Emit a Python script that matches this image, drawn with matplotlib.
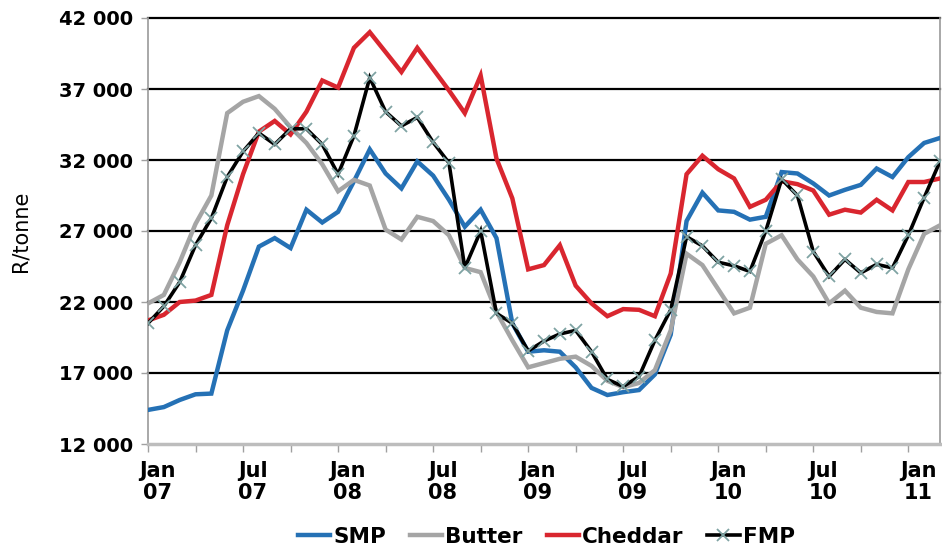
import matplotlib
matplotlib.use("Agg")
import matplotlib.pyplot as plt
import matplotlib.transforms as mtransforms
import numpy as np

# monthly prices, Jan 2007 - Mar 2011 (R/tonne)
months = np.arange(51)

smp = [14400, 14600, 15100, 15500, 15550, 20000, 22800, 25900, 26500, 25800,
       28500, 27600, 28350, 30500, 32750, 31050, 30000, 31900, 30900, 29200,
       27300, 28500, 26500, 20500, 18500, 18600, 18500, 17400, 15950, 15450,
       15650, 15800, 16900, 19700, 27700, 29700, 28450, 28350, 27800, 28000,
       31150, 31050, 30350, 29500, 29900, 30250, 31400, 30800, 32200, 33200, 33550]

butter = [21900, 22500, 24800, 27500, 29500, 35300, 36100, 36500, 35600, 34300,
          33200, 31700, 29800, 30600, 30200, 27100, 26400, 28000, 27700, 26700,
          24400, 24100, 21300, 19300, 17400, 17700, 18000, 18150, 17500, 16450,
          16000, 16300, 17200, 20000, 25400, 24600, 22900, 21200, 21600, 26100,
          26700, 25000, 23800, 21900, 22800, 21600, 21300, 21200, 24300, 26800, 27400]

cheddar = [20700, 21100, 22000, 22100, 22500, 27400, 31000, 34000, 34750, 33800,
           35400, 37600, 37100, 39900, 41000, 39600, 38200, 39900, 38400, 36900,
           35300, 37950, 32100, 29300, 24300, 24600, 26000, 23150, 21900, 21000,
           21500, 21450, 21000, 24000, 31000, 32300, 31350, 30700, 28700, 29200,
           30500, 30300, 29850, 28150, 28500, 28300, 29200, 28450, 30450, 30450, 30700]

fmp = [20500, 21700, 23400, 26000, 27900, 30800, 32600, 33900, 33100, 34200,
       34200, 33100, 31000, 33700, 37800, 35400, 34400, 35000, 33250, 31800,
       24400, 27000, 21200, 20500, 18550, 19250, 19750, 20000, 18500, 16550,
       16050, 16750, 19300, 21450, 26600, 25950, 24800, 24550, 24150, 27000,
       30650, 29500, 25550, 23800, 25000, 24050, 24650, 24400, 26700, 29350, 31900]

tick_labels = ["Jan\n07", "Jul\n07", "Jan\n08", "Jul\n08", "Jan\n09",
               "Jul\n09", "Jan\n10", "Jul\n10", "Jan\n11"]
y_ticks = [12000, 17000, 22000, 27000, 32000, 37000, 42000]

plt.rcParams['font.family'] = ['DejaVu Sans']

fig = plt.figure(figsize=(9.42, 5.52), dpi=100)
ax = fig.add_axes([148 / 942, 1 - 444 / 552, 792 / 942, 426 / 552])

# horizontal grid
for v in y_ticks[1:]:
    ax.axhline(v, color='black', lw=1.6, zorder=1, clip_on=False)

ax.plot(months, smp, color='#2571b5', lw=3.2, label='SMP', zorder=3,
        solid_joinstyle='miter')
ax.plot(months, butter, color='#a5a5a5', lw=3.2, label='Butter', zorder=3,
        solid_joinstyle='miter')
ax.plot(months, cheddar, color='#d9262f', lw=3.2, label='Cheddar', zorder=3,
        solid_joinstyle='miter')
ax.plot(months, fmp, color='black', lw=2.6, label='FMP', zorder=4,
        marker='x', ms=8, mew=1.3, mec='#7fa3a3', solid_joinstyle='miter')

ax.set_xlim(0, 50)
ax.set_ylim(12000, 42000)

ax.set_yticks(y_ticks)
ax.set_yticklabels([f"{v:,}".replace(",", " ") for v in y_ticks],
                   fontsize=14, fontweight='bold')
ax.set_xticks(np.arange(0, 49, 6))
ax.set_xticks(np.arange(0, 51, 3), minor=True)
ax.set_xticklabels(tick_labels, fontsize=15, fontweight='bold', linespacing=1.15)
ax.tick_params(axis='x', which='both', length=6, width=1, color='#a0a0a0',
               direction='out', pad=6)
ax.tick_params(axis='y', length=5, width=1, color='#a0a0a0', pad=6)

offset = mtransforms.ScaledTranslation(7 / 72, 0, fig.dpi_scale_trans)
for lab in ax.get_xticklabels():
    lab.set_transform(lab.get_transform() + offset)

ax.set_ylabel('R/tonne', fontsize=15, labelpad=20)

for side in ['left', 'right']:
    ax.spines[side].set_color('#999999')
    ax.spines[side].set_linewidth(1.2)
ax.spines['bottom'].set_color('#bdbdbd')
ax.spines['bottom'].set_linewidth(2.5)
ax.spines['top'].set_visible(False)

fig.legend(loc='center', bbox_to_anchor=(0.58, 0.028), ncol=4, frameon=False,
           prop={'size': 15.5, 'weight': 'bold'}, handlelength=1.5,
           handletextpad=0.15, columnspacing=1.1)

fig.savefig('out.png', dpi=100)
